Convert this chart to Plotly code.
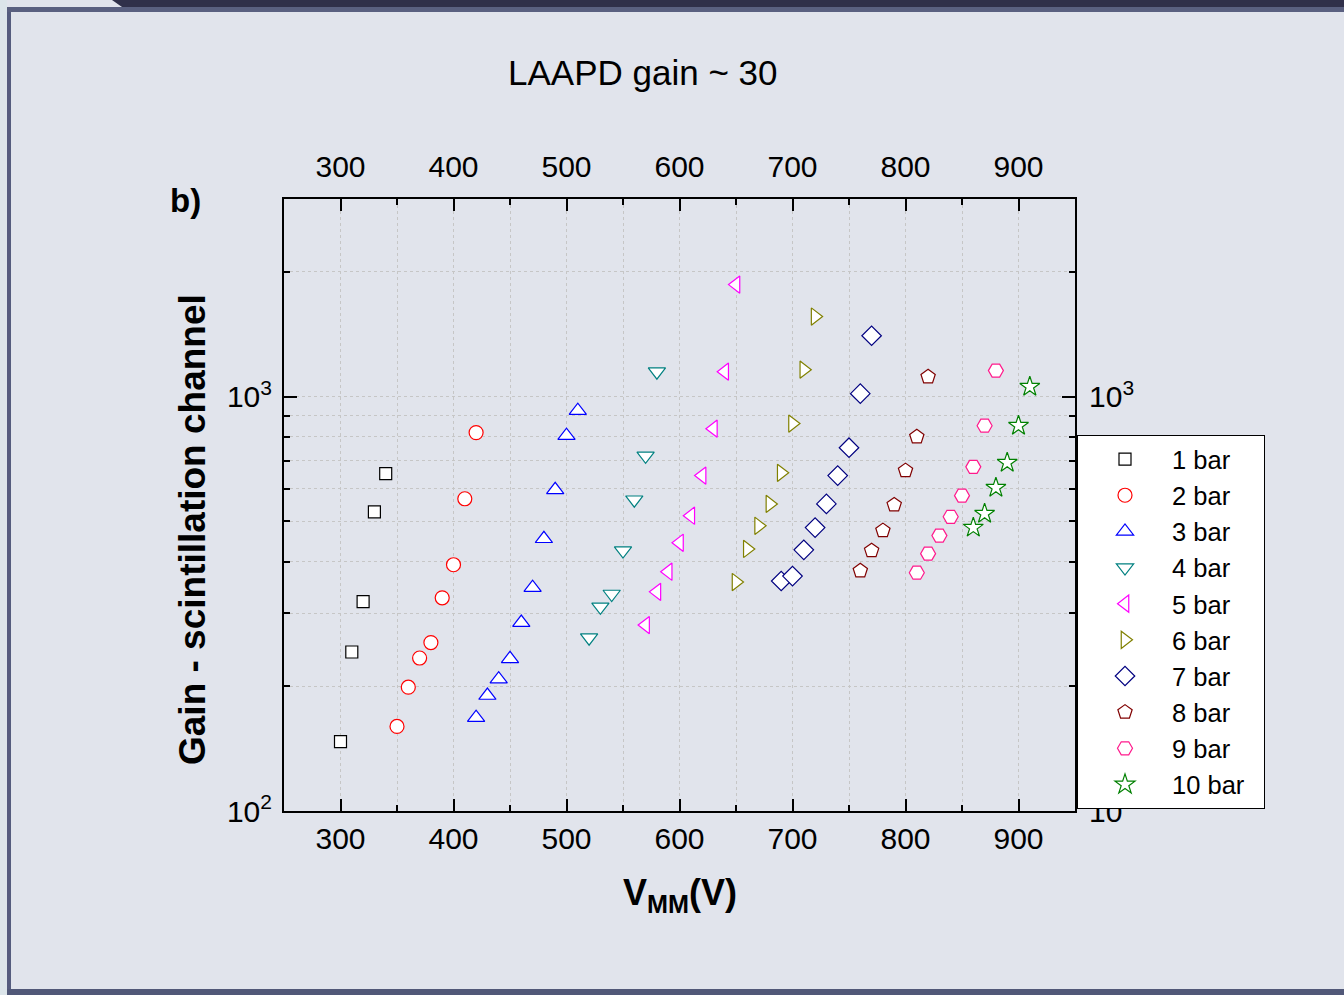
import plotly.graph_objects as go

# ---- data ----
labels = ["1 bar", "2 bar", "3 bar", "4 bar", "5 bar", "6 bar", "7 bar", "8 bar", "9 bar", "10 bar"]
x1 = [300, 310, 320, 330, 340]
y1 = [147, 242, 320, 527, 652]
x2 = [350, 360, 370, 380, 390, 400, 410, 420]
y2 = [160, 199, 234, 255, 327, 393, 567, 819]
x3 = [420, 430, 440, 450, 460, 470, 480, 490, 500, 510]
y3 = [168, 190, 208, 233, 285, 346, 454, 596, 805, 925]
x4 = [520, 530, 540, 550, 560, 570, 580]
y4 = [262, 311, 334, 425, 564, 720, 1149]
x5 = [570, 580, 590, 600, 610, 620, 630, 640, 650]
y5 = [281, 338, 378, 444, 516, 645, 837, 1149, 1864]
x6 = [650, 660, 670, 680, 690, 700, 710, 720]
y6 = [357, 429, 488, 551, 655, 861, 1162, 1561]
x7 = [690, 700, 710, 720, 730, 740, 750, 760, 770]
y7 = [359, 369, 427, 483, 551, 645, 753, 1017, 1403]
x8 = [760, 770, 780, 790, 800, 810, 820]
y8 = [380, 425, 475, 548, 663, 800, 1117]
x9 = [810, 820, 830, 840, 850, 860, 870, 880]
y9 = [376, 418, 462, 513, 577, 677, 851, 1156]
x10 = [860, 870, 880, 890, 900, 910]
y10 = [483, 522, 603, 693, 851, 1057]

xs = [x1, x2, x3, x4, x5, x6, x7, x8, x9, x10]
ys = [y1, y2, y3, y4, y5, y6, y7, y8, y9, y10]
colors = ["#000000", "#ff0000", "#0000ff", "#008080", "#ff00ff",
          "#808000", "#000080", "#800000", "#ff1a8c", "#008000"]
symbols = ["square", "circle", "triangle-up", "triangle-down", "triangle-left",
           "triangle-right", "diamond", "pentagon", "hexagon2", "star"]
sizes = [12, 14, 15, 15, 15, 15, 15, 15, 15, 15]

x_ticks = [300, 400, 500, 600, 700, 800, 900]
y_ticks = [100, 1000]
y_ticktext = ["10<sup>2</sup>", "10<sup>3</sup>"]
y_minor = [200, 300, 400, 500, 600, 700, 800, 900, 2000, 3000]

FONT = "Arial, Liberation Sans, sans-serif"
GRID = "#c6c6c6"

fig = go.Figure()
for lab, xv, yv, c, s, sz in zip(labels, xs, ys, colors, symbols, sizes):
    fig.add_trace(go.Scatter(
        x=xv, y=yv, mode="markers", name=lab + "\u00a0\u00a0",
        marker=dict(symbol=s, size=sz, color="white", line=dict(color=c, width=1.2)),
    ))

# geometry of plot area in pixels
L, R, T, B = 284, 1075, 199, 811
W, H = R - L, B - T
def xp(px):
    return (px - L) / W
def yp(py):
    return (B - py) / H

common_x = dict(range=[250, 950], tickvals=x_ticks, ticks="inside", ticklen=12, tickwidth=2,
                tickcolor="black", showline=True, linecolor="black", linewidth=2,
                tickfont=dict(size=30, family=FONT, color="black"), zeroline=False)
common_y = dict(type="log", range=[2, 3.4771], tickvals=y_ticks, ticktext=y_ticktext,
                ticks="inside", ticklen=13, tickwidth=2, tickcolor="black", showline=True,
                linecolor="black", linewidth=2,
                tickfont=dict(size=30, family=FONT, color="black"), zeroline=False)

fig.update_layout(
    width=1344, height=995,
    margin=dict(l=L, r=1344 - R, t=T, b=995 - B, autoexpand=False),
    paper_bgcolor="#e1e4ec", plot_bgcolor="#e1e4ec",
    showlegend=True,
    xaxis=dict(**common_x, showgrid=True, gridcolor=GRID, griddash="dot", gridwidth=1,
               minor=dict(dtick=50, tick0=0, ticks="inside", ticklen=6, tickwidth=2, tickcolor="black",
                          showgrid=True, gridcolor=GRID, griddash="dot", gridwidth=1)),
    xaxis2=dict(**common_x, overlaying="x", side="top", anchor="y", matches="x", showgrid=False,
                ticklabelstandoff=8,
                minor=dict(dtick=50, tick0=0, ticks="inside", ticklen=6, tickwidth=2, tickcolor="black")),
    yaxis=dict(**common_y, showgrid=True, gridcolor=GRID, griddash="dot", gridwidth=1,
               ticklabelstandoff=4,
               minor=dict(tickmode="array", tickvals=y_minor, ticks="inside", ticklen=6, tickwidth=2,
                          tickcolor="black", showgrid=True, gridcolor=GRID, griddash="dot", gridwidth=1)),
    yaxis2=dict(**common_y, overlaying="y", side="right", anchor="x", showgrid=False,
                ticklabelstandoff=6,
                minor=dict(tickmode="array", tickvals=y_minor, ticks="inside", ticklen=6, tickwidth=2,
                           tickcolor="black")),
    legend=dict(x=xp(1077), y=yp(435), xanchor="left", yanchor="top",
                bgcolor="white", bordercolor="black", borderwidth=1,
                font=dict(size=25.5, family=FONT, color="black"),
                itemwidth=84, tracegroupgap=0),
)

# invisible trace to make sure secondary axes are drawn
fig.add_trace(go.Scatter(x=[600], y=[300], xaxis="x2", yaxis="y2", mode="markers",
                         marker=dict(opacity=0), showlegend=False, hoverinfo="skip"))

# frame decoration
shapes = [
    dict(type="rect", xref="paper", yref="paper", x0=xp(0), x1=xp(7), y0=yp(995), y1=yp(0),
         fillcolor="#dce5ea", line=dict(width=0), layer="below"),
    dict(type="rect", xref="paper", yref="paper", x0=xp(7), x1=xp(11), y0=yp(995), y1=yp(7),
         fillcolor="#555c7e", line=dict(width=0), layer="below"),
    dict(type="rect", xref="paper", yref="paper", x0=xp(7), x1=xp(1344), y0=yp(12), y1=yp(7),
         fillcolor="#5a6080", line=dict(width=0), layer="below"),
    dict(type="path", xref="paper", yref="paper",
         path=f"M {xp(112)},{yp(0)} L {xp(1344)},{yp(0)} L {xp(1344)},{yp(7)} L {xp(122)},{yp(7)} Z",
         fillcolor="#30304a", line=dict(width=0), layer="below"),
    dict(type="rect", xref="paper", yref="paper", x0=xp(7), x1=xp(1344), y0=yp(995), y1=yp(989),
         fillcolor="#515878", line=dict(width=0), layer="below"),
]
fig.update_layout(shapes=shapes)

annotations = [
    dict(text="LAAPD gain ~ 30", x=xp(643), y=yp(72), xref="paper", yref="paper",
         showarrow=False, font=dict(size=35, family=FONT, color="black"), xanchor="center", yanchor="middle"),
    dict(text="<b>b)</b>", x=xp(185), y=yp(200), xref="paper", yref="paper",
         showarrow=False, font=dict(size=33, family=FONT, color="black"), xanchor="center", yanchor="middle"),
    dict(text="<b>Gain - scintillation channel</b>", x=xp(192), y=yp(530), xref="paper", yref="paper",
         showarrow=False, textangle=-90, font=dict(size=37, family=FONT, color="black"),
         xanchor="center", yanchor="middle"),
    dict(text="<b>V<sub>MM</sub>(V)</b>", x=xp(680), y=yp(895), xref="paper", yref="paper",
         showarrow=False, font=dict(size=36, family=FONT, color="black"), xanchor="center", yanchor="middle"),
]
fig.update_layout(annotations=annotations)

fig.write_html("out.html")
